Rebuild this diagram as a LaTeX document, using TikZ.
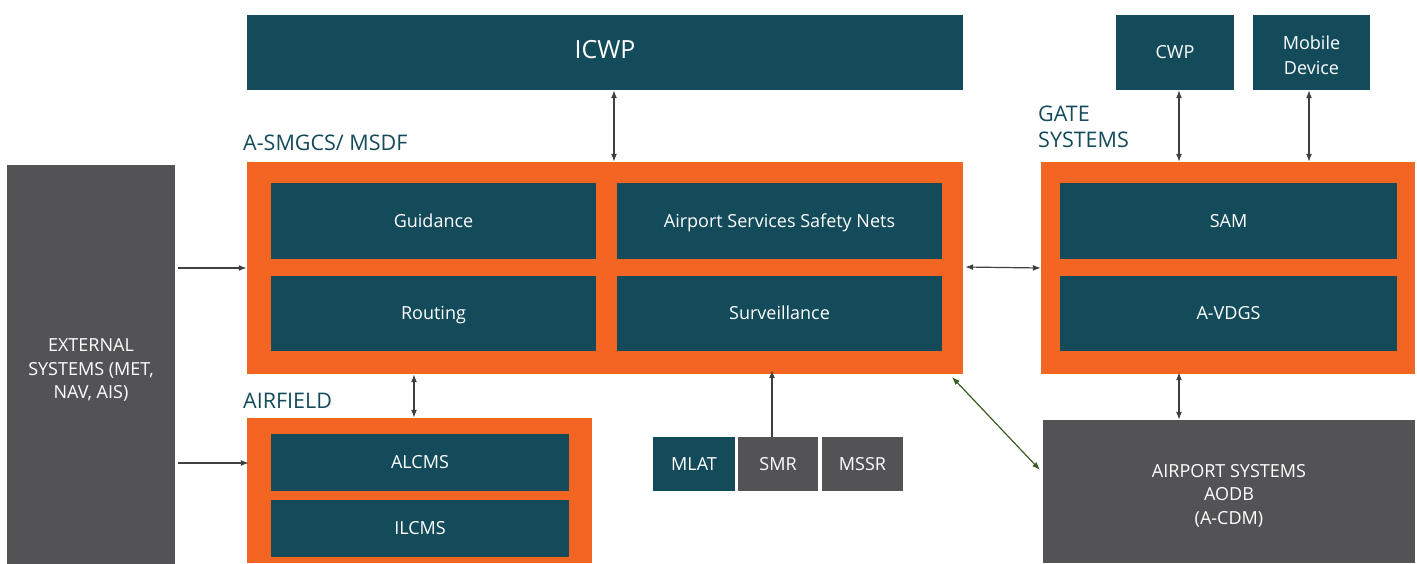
\documentclass[tikz,border=0pt]{standalone}
\usepackage{fontspec}
\setmainfont{Open Sans}
\usetikzlibrary{arrows.meta}
\definecolor{teal}{HTML}{134B5A}
\definecolor{orng}{HTML}{F26522}
\definecolor{gry}{HTML}{535355}
\definecolor{grn}{HTML}{375E23}
\definecolor{arr}{HTML}{404040}
\begin{document}
\begin{tikzpicture}[x=1pt,y=-1pt,
  box/.style={fill=teal,draw=none,text=white,font=\fontsize{18}{23.5}\selectfont,align=center},
  gbox/.style={fill=gry,draw=none,text=white,font=\fontsize{18}{23.5}\selectfont,align=center},
  one/.style={text height=1.2em,text depth=0.0em},
  multi/.style={text height=1.2em},
  frame/.style={fill=orng,draw=none},
  lbl/.style={text=teal,font=\fontsize{21.5}{26}\selectfont,anchor=base west,inner sep=0pt,align=left},
  con/.style={draw=arr,line width=1.2pt,-{Latex[length=8pt,width=6pt]}},
  bicon/.style={draw=arr,line width=1.2pt,{Latex[length=8pt,width=6pt]}-{Latex[length=8pt,width=6pt]}}]
\useasboundingbox (0,0) rectangle (1417,563);
\fill[white] (0,0) rectangle (1417,563);
% frames
\node[frame,minimum width=716pt,minimum height=212pt,inner sep=0pt] (asm) at (605,268) {};
\node[frame,minimum width=374pt,minimum height=212pt,inner sep=0pt] (gate) at (1228,268) {};
\node[frame,minimum width=345pt,minimum height=145pt,inner sep=0pt] (air) at (419.5,490.5) {};
% boxes
\node[box,one,minimum width=716pt,minimum height=75pt,font=\fontsize{25}{30}\selectfont] (icwp) at (605,52.5) {ICWP};
\node[box,one,minimum width=118pt,minimum height=75pt] (cwp) at (1175,52.5) {CWP};
\node[box,minimum width=117pt,minimum height=75pt,font=\fontsize{18}{25}\selectfont] (mob) at (1311.5,52.5) {};
\node[text=white,font=\fontsize{18}{25}\selectfont,align=center] (mobt) at (1311.5,55) {Mobile\\Device};
\node[box,one,minimum width=325pt,minimum height=76pt] (guid) at (433.5,221) {Guidance};
\node[box,one,minimum width=325pt,minimum height=76pt] (assn) at (779.5,221) {Airport Services Safety Nets};
\node[box,one,minimum width=325pt,minimum height=75pt] (rout) at (433.5,313.5) {Routing};
\node[box,one,minimum width=325pt,minimum height=75pt] (surv) at (779.5,313.5) {Surveillance};
\node[box,one,minimum width=337pt,minimum height=76pt] (sam) at (1228.5,221) {SAM};
\node[box,one,minimum width=337pt,minimum height=75pt] (avdgs) at (1228.5,313.5) {A-VDGS};
\node[box,one,minimum width=298pt,minimum height=57pt] (alcms) at (420,462.5) {ALCMS};
\node[box,one,minimum width=298pt,minimum height=57pt] (ilcms) at (420,528.5) {ILCMS};
\node[box,one,minimum width=82pt,minimum height=54pt] (mlat) at (694,464) {MLAT};
\node[gbox,one,minimum width=80pt,minimum height=54pt] (smr) at (778,464) {SMR};
\node[gbox,one,minimum width=81pt,minimum height=54pt] (mssr) at (862.5,464) {MSSR};
\node[gbox,minimum width=168pt,minimum height=400pt] (ext) at (91,365) {};
\node[text=white,font=\fontsize{18}{23.5}\selectfont,align=center] (extt) at (91,370) {EXTERNAL\\SYSTEMS (MET,\\NAV, AIS)};
\node[gbox,minimum width=372pt,minimum height=143pt] (aps) at (1229,491.5) {};
\node[text=white,font=\fontsize{18}{23.5}\selectfont,align=center] (apst) at (1229,495.5) {AIRPORT SYSTEMS\\AODB\\(A-CDM)};
% labels
\node[lbl] (l1) at (243,150) {A-SMGCS/ MSDF};
\node[lbl] (l2) at (243,408) {AIRFIELD};
\node[lbl] (l3) at (1038,121) {GATE};
\node[lbl] (l4) at (1038,147) {SYSTEMS};
% connectors
\draw[bicon] (icwp.south -| 614,0) -- (asm.north -| 614,0);
\draw[bicon] (cwp.south -| 1179,0) -- (gate.north -| 1179,0);
\draw[bicon] (mob.south -| 1309,0) -- (gate.north -| 1309,0);
\draw[con] (ext.east |- 0,268) ++(3,0) -- (asm.west |- 0,268);
\draw[con] (ext.east |- 0,463) ++(3,0) -- ([xshift=2pt]air.west |- 0,463);
\draw[bicon] ([xshift=2pt]asm.east |- 0,267) -- (gate.west |- 0,268);
\draw[bicon] (asm.south -| 414,0) -- (air.north -| 414,0);
\draw[con] (smr.north -| 772,0) -- ([yshift=4pt]asm.south -| 772,0);
\draw[bicon] ([yshift=2pt]gate.south -| 1179,0) -- (aps.north -| 1179,0);
\coordinate (g1) at (952,377);
\coordinate (g2) at (1040,470);
\draw[bicon,draw=grn,line width=1.2pt] (g1) -- (g2);
\end{tikzpicture}
\end{document}
